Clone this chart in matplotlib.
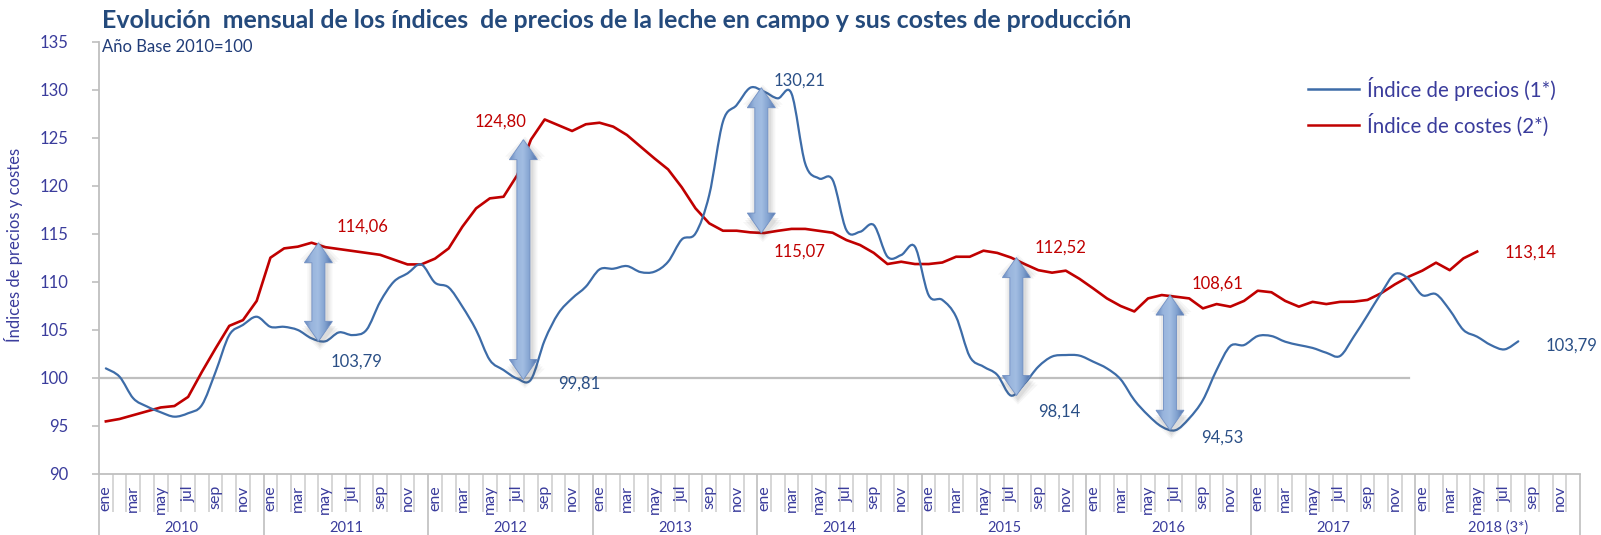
import numpy as np
import matplotlib
matplotlib.use("Agg")
import matplotlib.pyplot as plt
from matplotlib.path import Path
from matplotlib.patches import PathPatch, Polygon
from matplotlib.lines import Line2D
from matplotlib.colors import to_rgb

plt.rcParams['font.family'] = ['Lato', 'DejaVu Sans']

# ---- data -------------------------------------------------------------
years = ['2010', '2011', '2012', '2013', '2014', '2015', '2016', '2017', '2018 (3*)']
months = ['ene', 'feb', 'mar', 'abr', 'may', 'jun', 'jul', 'ago', 'sep', 'oct', 'nov', 'dic']

# Índice de precios de la leche en campo (1*), ene 2010 - ago 2018
precios = [
    100.97, 100.10, 97.85, 97.00, 96.40, 95.94, 96.30, 97.15, 100.60, 104.44, 105.50, 106.35,
    105.30, 105.30, 104.97, 104.10, 103.79, 104.72, 104.44, 104.97, 107.90, 110.00, 110.87, 111.80,
    109.90, 109.40, 107.40, 104.97, 101.84, 100.80, 99.90, 99.81, 103.90, 106.70, 108.26, 109.48,
    111.28, 111.35, 111.63, 111.00, 111.04, 112.08, 114.40, 115.03, 119.03, 126.67, 128.40, 130.21,
    129.80, 129.10, 129.60, 122.30, 120.76, 120.60, 115.38, 115.20, 115.90, 112.60, 112.78, 113.65,
    108.60, 108.10, 106.35, 102.20, 101.15, 100.30, 98.14, 99.40, 101.15, 102.20, 102.36, 102.30,
    101.67, 100.97, 99.83, 97.67, 96.10, 94.90, 94.53, 95.76, 97.67, 100.80, 103.30, 103.40,
    104.34, 104.34, 103.75, 103.40, 103.10, 102.60, 102.26, 104.27, 106.50, 108.80, 110.80, 110.30,
    108.60, 108.70, 107.05, 104.97, 104.27, 103.40, 102.95, 103.79,
]

# Índice de costes de producción (2*), ene 2010 - may 2018
costes = [
    95.45, 95.70, 96.10, 96.50, 96.90, 97.05, 98.00, 100.60, 103.05, 105.40, 106.00, 108.00,
    112.50, 113.47, 113.65, 114.06, 113.60, 113.40, 113.20, 113.00, 112.80, 112.30, 111.80, 111.80,
    112.40, 113.47, 115.73, 117.64, 118.68, 118.85, 121.10, 124.80, 126.90, 126.30, 125.70, 126.40,
    126.56, 126.15, 125.28, 124.06, 122.85, 121.70, 119.83, 117.64, 116.08, 115.31, 115.31, 115.14,
    115.07, 115.30, 115.50, 115.50, 115.30, 115.10, 114.34, 113.82, 113.00, 111.84, 112.08, 111.84,
    111.84, 112.00, 112.60, 112.60, 113.23, 113.00, 112.52, 111.84, 111.20, 110.94, 111.15, 110.30,
    109.30, 108.26, 107.47, 106.90, 108.26, 108.61, 108.44, 108.26, 107.22, 107.67, 107.40, 108.00,
    109.06, 108.90, 108.00, 107.40, 107.90, 107.67, 107.90, 107.92, 108.10, 108.80, 109.72, 110.52,
    111.15, 111.98, 111.20, 112.43, 113.14,
]

base_value = 100
base_last_month = 95

# Gaps highlighted with double arrows: month index of each point pair
gap_price_idx = [16, 31, 47, 66, 78]
gap_cost_idx = [15, 31, 48, 66, 77]
gap_x = [15.5, 30.45, 47.8, 66.4, 77.6]

# Labelled points: (month index, label x, label y)
price_labels = [(16, 18.3, 101.7), (31, 34.5, 99.4), (47, 50.6, 130.9),
                (66, 69.5, 96.5), (78, 81.4, 93.8), (103, 106.9, 103.3)]
cost_labels = [(15, 18.7, 115.7), (31, 28.75, 126.7), (48, 50.6, 113.1),
               (66, 69.6, 113.5), (77, 81.1, 109.8), (100, 103.9, 113.0)]

# ---- styling ----------------------------------------------------------
BLUE = '#3d6ca8'
RED = '#c00000'
LBL_BLUE = '#2a4f86'
AX_TXT = '#3a3c9c'
GRAY = '#bfbfbf'
TITLE = '#244a7c'

W, H = 1601, 535
fig = plt.figure(figsize=(W / 100, H / 100), dpi=100)
ax_left, ax_right, ax_top, ax_bot = 99, 1580, 41.7, 473.7
ax = fig.add_axes([ax_left / W, 1 - ax_bot / H, (ax_right - ax_left) / W, (ax_bot - ax_top) / H])

n_months = 12 * len(years)
ax.set_xlim(-0.5, n_months - 0.5)
ax.set_ylim(90, 135)

# units per pixel, used for arrow geometry
ux = n_months / (ax_right - ax_left)
uy = 45 / (ax_bot - ax_top)


def smooth_path(xs, ys):
    verts = [(xs[0], ys[0])]
    codes = [Path.MOVETO]
    n = len(xs)
    for i in range(n - 1):
        a = max(i - 1, 0)
        b = min(i + 2, n - 1)
        c1 = (xs[i] + (xs[i + 1] - xs[a]) / 6, ys[i] + (ys[i + 1] - ys[a]) / 6)
        c2 = (xs[i + 1] - (xs[b] - xs[i]) / 6, ys[i + 1] - (ys[b] - ys[i]) / 6)
        verts += [c1, c2, (xs[i + 1], ys[i + 1])]
        codes += [Path.CURVE4] * 3
    return Path(verts, codes)


# reference line at the base value
ax.plot([-0.5, base_last_month], [base_value, base_value], color=GRAY, lw=1.6, zorder=1)

# cost index (straight segments) and price index (smoothed)
ax.plot(np.arange(len(costes)), costes, color=RED, lw=1.9, zorder=3, solid_joinstyle='round')
ax.add_patch(PathPatch(smooth_path(np.arange(len(precios), dtype=float), np.array(precios)),
                       fill=False, edgecolor=BLUE, lw=1.6, zorder=3, capstyle='round'))


def arrow_pts(x, y_top, y_bot, grow=0.0):
    sw = (6.5 + grow) * ux
    hw = (14 + grow) * ux
    hl = 20 * uy
    t = y_top + grow * uy
    b = y_bot - grow * uy
    return [(x, t), (x + hw, t - hl), (x + sw, t - hl), (x + sw, b + hl), (x + hw, b + hl),
            (x, b), (x - hw, b + hl), (x - sw, b + hl), (x - sw, t - hl), (x - hw, t - hl)]


stops = [to_rgb(c) for c in ['#6687bd', '#98b4dc', '#a2bde2', '#82a2d0', '#5476ad']]
grad = np.zeros((1, 64, 3))
pos = np.linspace(0, 1, len(stops))
for k in range(3):
    grad[0, :, k] = np.interp(np.linspace(0, 1, 64), pos, [s[k] for s in stops])

for xi, pi, ci in zip(gap_x, gap_price_idx, gap_cost_idx):
    hi = max(precios[pi], costes[ci])
    lo = min(precios[pi], costes[ci])
    # soft shadow
    for g, a in [(6, 0.05), (4, 0.07), (2, 0.09)]:
        pts = [(px + 1.5 * ux, py - 3 * uy) for px, py in arrow_pts(xi, hi, lo, g)]
        ax.add_patch(Polygon(pts, closed=True, facecolor='#555555', edgecolor='none',
                             alpha=a, zorder=4))
    poly = Polygon(arrow_pts(xi, hi, lo), closed=True, facecolor='none',
                   edgecolor='#7190c4', lw=0.6, zorder=6)
    ax.add_patch(poly)
    hw = 14 * ux
    im = ax.imshow(grad, extent=(xi - hw, xi + hw, lo, hi), aspect='auto',
                   interpolation='bilinear', zorder=5)
    im.set_clip_path(poly)


def fmt(v):
    return f"{v:.2f}".replace('.', ',')


for idx, lx, ly in price_labels:
    ax.text(lx, ly, fmt(precios[idx]), color=LBL_BLUE, fontsize=12, ha='center', va='center', zorder=7)
for idx, lx, ly in cost_labels:
    ax.text(lx, ly, fmt(costes[idx]), color=RED, fontsize=12, ha='center', va='center', zorder=7)

ax.set_xlim(-0.5, n_months - 0.5)
ax.set_ylim(90, 135)

# ---- axes -------------------------------------------------------------
for s in ['top', 'right']:
    ax.spines[s].set_visible(False)
for s in ['left', 'bottom']:
    ax.spines[s].set_color(GRAY)
    ax.spines[s].set_linewidth(1.3)

ax.set_yticks(range(90, 136, 5))
ax.tick_params(axis='y', length=5, width=1.2, color=GRAY, labelcolor=AX_TXT,
               labelsize=12, pad=17)

ax.set_xticks(np.arange(-0.5, n_months, 12))
ax.set_xticks(np.arange(-0.5, n_months, 1), minor=True)
ax.tick_params(axis='x', which='major', length=44, width=1.2, color=GRAY, labelbottom=False)
ax.tick_params(axis='x', which='minor', length=27, width=1.2, color='#d0d0d0', labelbottom=False)

tr = ax.get_xaxis_transform()
month_top = -(485 - ax_bot) / (ax_bot - ax_top)
year_y = -(528 - ax_bot) / (ax_bot - ax_top)
for i in range(n_months):
    if i % 2 == 0:
        ax.text(i, month_top, months[i % 12], transform=tr, rotation=90, ha='center', va='top',
                color=AX_TXT, fontsize=11.5, clip_on=False)
for j, yl in enumerate(years):
    ax.text(12 * j + 5.5, year_y, yl, transform=tr, ha='center', va='center',
            color=AX_TXT, fontsize=10.5, clip_on=False)

fig.text(14 / W, 1 - 245 / H, 'Índices de precios y costes', rotation=90, ha='center',
         va='center', color=AX_TXT, fontsize=12)

# ---- titles -------------------------------------------------------------
fig.text(102 / W, 1 - 20 / H,
         'Evolución  mensual de los índices  de precios de la leche en campo y sus costes de producción',
         ha='left', va='center', color=TITLE, fontsize=17.9, fontweight='bold')
fig.text(102 / W, 1 - 47 / H, 'Año Base 2010=100', ha='left', va='center',
         color='#203c78', fontsize=12)

# ---- legend -------------------------------------------------------------
for yy, col, txt in [(89, BLUE, 'Índice de precios (1*)'), (125, RED, 'Índice de costes (2*)')]:
    fig.add_artist(Line2D([1308 / W, 1359 / W], [1 - yy / H, 1 - yy / H], color=col, lw=1.8,
                          transform=fig.transFigure))
    fig.text(1367 / W, 1 - yy / H, txt, ha='left', va='center', color=AX_TXT, fontsize=14.8)

fig.savefig('out.png', dpi=100)
